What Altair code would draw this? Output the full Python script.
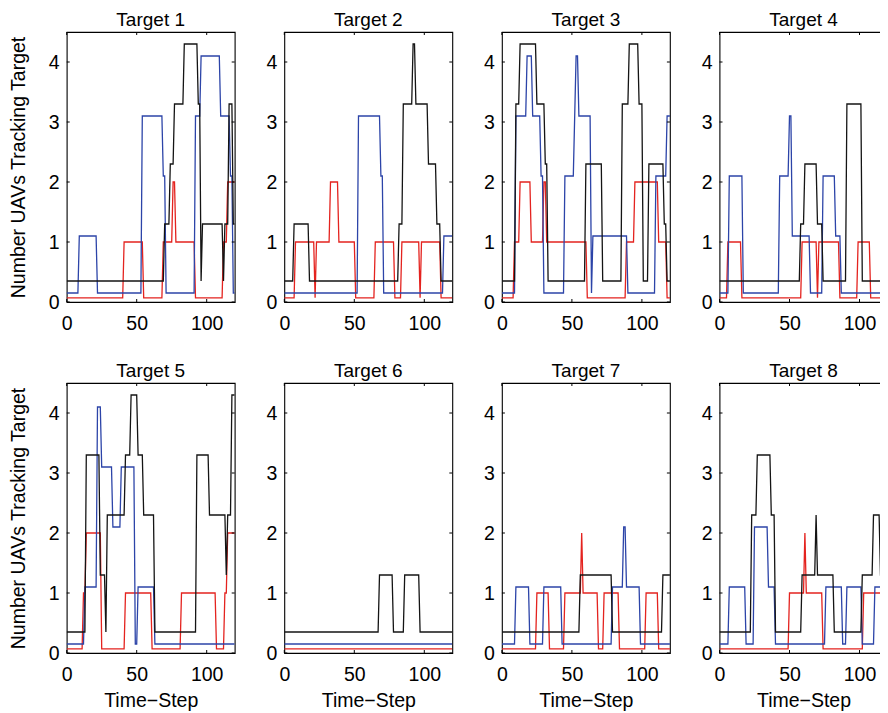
import altair as alt
import pandas as pd

# ---------------- data ----------------
X_MAX = 120
Y_MAX = 4.5
X_TICKS = [0, 50, 100]
Y_TICKS = [0, 1, 2, 3, 4]
TITLES = ["Target 1", "Target 2", "Target 3", "Target 4",
          "Target 5", "Target 6", "Target 7", "Target 8"]
SERIES = ["red", "blue", "black"]
COLORS = ["#e4231f", "#2c44a8", "#141414"]

# each series: [time-step where a new level starts, plotted level]
T1_RED = [[0, .07], [41, 1], [55, .07], [69, 1], [76, 2], [78, 1], [92, .07], [112, 1], [115, 2]]
T1_BLUE = [[0, .15], [9, 1.1], [22, .15], [54, 3.1], [69, 2.1], [71, .15], [92, 3.1], [96, 4.1], [110, 3.1], [117, 2.1], [119, .15]]
T1_BLACK = [[0, .35], [70, 1.3], [74, 2.3], [77, 3.3], [84, 4.3], [94, 3.3], [96, .35], [97, 1.3], [112, .35], [113, 1.3], [116, 3.3], [119, 1.3]]

T2_RED = [[0, .07], [8, 1], [22, .07], [23, 1], [33, 2], [39, 1], [51, .07], [65, 1], [79, .07], [84, 1], [97, .07], [98, 1], [112, .07]]
T2_BLUE = [[0, .15], [53, 3.1], [69, 2.1], [71, .15], [114, 1.1]]
T2_BLACK = [[0, .35], [7, 1.3], [18, .35], [82, 1.3], [85, 3.3], [92, 4.3], [94, 3.3], [103, 2.3], [109, 1.3], [112, .35]]

T3_RED = [[0, .07], [9, 1], [13, 2], [21, 1], [30, 2], [32, 1], [61, .07], [89, 1], [95, 2], [112, 1], [118, .07]]
T3_BLUE = [[0, .15], [10, 3.1], [18, 4.1], [22, 3.1], [28, 2.1], [30, .15], [45, 2.1], [52, 3.1], [53, 4.1], [55, 3.1], [64, .15], [65, 1.1], [90, .15], [110, 2.1], [118, 3.1]]
T3_BLACK = [[0, .35], [10, 3.3], [13, 4.3], [25, 3.3], [31, 2.3], [33, .35], [60, 2.3], [72, .35], [86, 3.3], [91, 4.3], [98, 3.3], [101, .35], [105, 2.3], [116, 1.3], [118, .35]]

T4_RED = [[0, .07], [6, 1], [16, .07], [59, 1], [70, .07], [71, 1], [86, .07], [99, 1], [108, .07]]
T4_BLUE = [[0, .15], [7, 2.1], [17, .15], [43, 2.1], [50, 3.1], [52, 1.1], [65, .15], [74, 2.1], [83, 1.1], [87, .15]]
T4_BLACK = [[0, .35], [58, 1.3], [61, 2.3], [70, 1.3], [74, .35], [91, 3.3], [102, .35]]

T5_RED = [[0, .07], [12, 1], [14, 2], [25, .07], [42, 1], [61, .07], [82, 1], [107, .07], [113, 1], [115, 2]]
T5_BLUE = [[0, .15], [13, 1.1], [22, 4.1], [25, 3.1], [33, 2.1], [39, 3.1], [49, .15], [51, 1.1], [63, .15]]
T5_BLACK = [[0, .35], [14, 3.3], [24, 1.3], [28, .35], [29, 2.3], [42, 3.3], [46, 4.3], [51, 3.3], [55, 2.3], [63, .35], [93, 3.3], [102, 2.3], [114, 1.3], [115, 2.3], [118, 4.3]]

T6_RED = [[0, .07]]
T6_BLUE = [[0, .15]]
T6_BLACK = [[0, .35], [68, 1.3], [78, .35], [86, 1.3], [97, .35]]

T7_RED = [[0, .07], [25, 1], [34, .07], [45, 1], [57, 2], [58, 1], [69, .07], [73, 1], [84, .07], [103, 1], [112, .07]]
T7_BLUE = [[0, .15], [10, 1.1], [20, .15], [30, 1.1], [43, .15], [79, 1.1], [87, 2.1], [89, 1.1], [99, .15]]
T7_BLACK = [[0, .35], [56, 1.3], [79, .35], [115, 1.3]]

T8_RED = [[0, .07], [50, 1], [61, 2], [62, 1], [74, .07], [103, 1], [118, .07]]
T8_BLUE = [[0, .15], [7, 1.1], [19, .15], [25, 2.1], [35, 1.1], [40, .15], [76, 1.1], [88, .15], [91, 1.1], [102, .15], [111, 1.1]]
T8_BLACK = [[0, .35], [23, 2.3], [27, 3.3], [37, 2.3], [40, .35], [59, 1.3], [69, 2.3], [70, 1.3], [82, .35], [102, 1.3], [110, 2.3], [115, 1.3]]

PANELS = [
    [T1_RED, T1_BLUE, T1_BLACK], [T2_RED, T2_BLUE, T2_BLACK],
    [T3_RED, T3_BLUE, T3_BLACK], [T4_RED, T4_BLUE, T4_BLACK],
    [T5_RED, T5_BLUE, T5_BLACK], [T6_RED, T6_BLUE, T6_BLACK],
    [T7_RED, T7_BLUE, T7_BLACK], [T8_RED, T8_BLUE, T8_BLACK],
]

# ---------------- layout / style ----------------
W = 168
H = 270
COL_GAP = 49.6
ROW_GAP = 81
FONT = "Liberation Sans"
FS = 19.5
TITLE_FS = 19
TICK = 3
PAD_LEFT = 58.7
PAD_TOP = 24
SVG_W = 872
SVG_H = 705


def vertices(steps):
    """Polyline through the step levels (one time-step ramps between levels)."""
    rows = []
    for k, (t, v) in enumerate(steps):
        t_next = steps[k + 1][0] if k + 1 < len(steps) else X_MAX + 1
        rows.append((t, v))
        rows.append((t_next - 1, v))
    return pd.DataFrame({"t": [r[0] for r in rows], "v": [r[1] for r in rows],
                         "i": list(range(len(rows)))})


xscale = alt.Scale(domain=[0, X_MAX], nice=False, zero=False)
yscale = alt.Scale(domain=[0, Y_MAX], nice=False, zero=False)


def panel(idx):
    col = idx % 4
    row = idx // 4
    xaxis = alt.Axis(values=X_TICKS, format="d", labelFlush=False, labelPadding=12,
                     titlePadding=8, grid=False, domain=False, tickSize=0,
                     labelFontSize=FS, titleFontSize=FS, labelFont=FONT, titleFont=FONT,
                     titleFontWeight="normal", labelColor="black", titleColor="black",
                     title="Time\u2212Step" if row == 1 else None)
    yaxis = alt.Axis(values=Y_TICKS, format="d", labelFlush=False, labelPadding=7.5,
                     titlePadding=20, grid=False, domain=False, tickSize=0,
                     labelFontSize=FS, titleFontSize=FS, labelFont=FONT, titleFont=FONT,
                     titleFontWeight="normal", labelColor="black", titleColor="black",
                     title="Number UAVs Tracking Target" if col == 0 else None)
    layers = []
    for s, steps in enumerate(PANELS[idx]):
        df = vertices(steps)
        enc = dict(x=alt.X("t:Q", scale=xscale, axis=xaxis),
                   y=alt.Y("v:Q", scale=yscale, axis=yaxis),
                   order="i:Q")
        layers.append(alt.Chart(df).mark_line(color=COLORS[s], strokeWidth=1.3,
                                              clip=True).encode(**enc))
    xt = pd.DataFrame({"t": X_TICKS})
    yt = pd.DataFrame({"v": Y_TICKS})
    tick_style = dict(color="black", strokeWidth=1)
    layers.append(alt.Chart(xt).mark_rule(**tick_style).encode(
        x=alt.X("t:Q", scale=xscale), y=alt.value(H), y2=alt.value(H - TICK)))
    layers.append(alt.Chart(xt).mark_rule(**tick_style).encode(
        x=alt.X("t:Q", scale=xscale), y=alt.value(0), y2=alt.value(TICK)))
    layers.append(alt.Chart(yt).mark_rule(**tick_style).encode(
        y=alt.Y("v:Q", scale=yscale), x=alt.value(0), x2=alt.value(TICK)))
    layers.append(alt.Chart(yt).mark_rule(**tick_style).encode(
        y=alt.Y("v:Q", scale=yscale), x=alt.value(W), x2=alt.value(W - TICK)))
    # panel title as a text mark above the plot area
    layers.append(alt.Chart(pd.DataFrame({"label": [TITLES[idx]]})).mark_text(
        font=FONT, fontSize=TITLE_FS, color="black", align="center",
        baseline="alphabetic").encode(
        x=alt.value(W / 2), y=alt.value(-6.4), text="label:N"))
    return alt.layer(*layers).properties(width=W, height=H)


chart = alt.concat(*[panel(i) for i in range(8)], columns=4,
                   spacing={"row": ROW_GAP, "column": COL_GAP}, bounds="flush").properties(
    autosize=alt.AutoSizeParams(type="none"),
    padding={"left": PAD_LEFT, "top": PAD_TOP,
             "right": SVG_W - PAD_LEFT, "bottom": SVG_H - PAD_TOP},
    background="white",
).configure_view(stroke="black", strokeWidth=1.1)

chart.save("out.html", embed_options={"renderer": "svg", "actions": False})
